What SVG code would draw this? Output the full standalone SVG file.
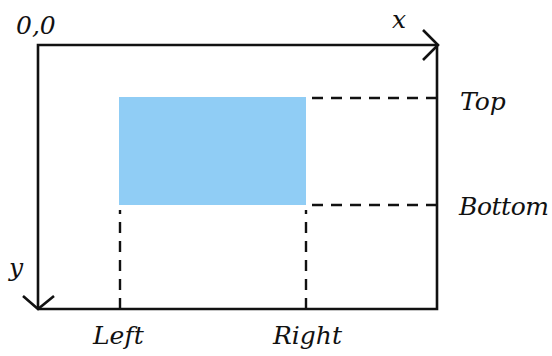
<svg xmlns="http://www.w3.org/2000/svg" width="552" height="356" viewBox="0 0 552 356">
<style>
.t{font-family:"DejaVu Serif",serif;font-style:italic;font-size:25px;fill:#111}
.ax{stroke:#111;stroke-width:2.6;fill:none}
.d{stroke:#111;stroke-width:2.4;fill:none;stroke-dasharray:11 8}
</style>
<rect width="552" height="356" fill="#fff"/>
<g id="rectnode"><rect x="119" y="97" width="187" height="108" fill="#90cdf5"/></g>
<g id="connectors">
<path class="d" d="M437 98H309"/>
<path class="d" d="M437 205H309"/>
<path class="d" d="M120 309V210"/>
<path class="d" d="M306 309V210"/>
<path class="ax" d="M38 309V45H437V309H38"/>
<path class="ax" d="M423 30L438 45L423 60"/>
<path class="ax" d="M23 296L38 309L54 296"/>
</g>
<g id="labels">
<text class="t" x="16" y="34">0,0</text>
<text class="t" x="392" y="28">x</text>
<text class="t" x="9" y="276">y</text>
<text class="t" x="460" y="110">Top</text>
<text class="t" x="459" y="215" textLength="90" lengthAdjust="spacing">Bottom</text>
<text class="t" x="93" y="344">Left</text>
<text class="t" x="273" y="344">Right</text>
</g>
</svg>
